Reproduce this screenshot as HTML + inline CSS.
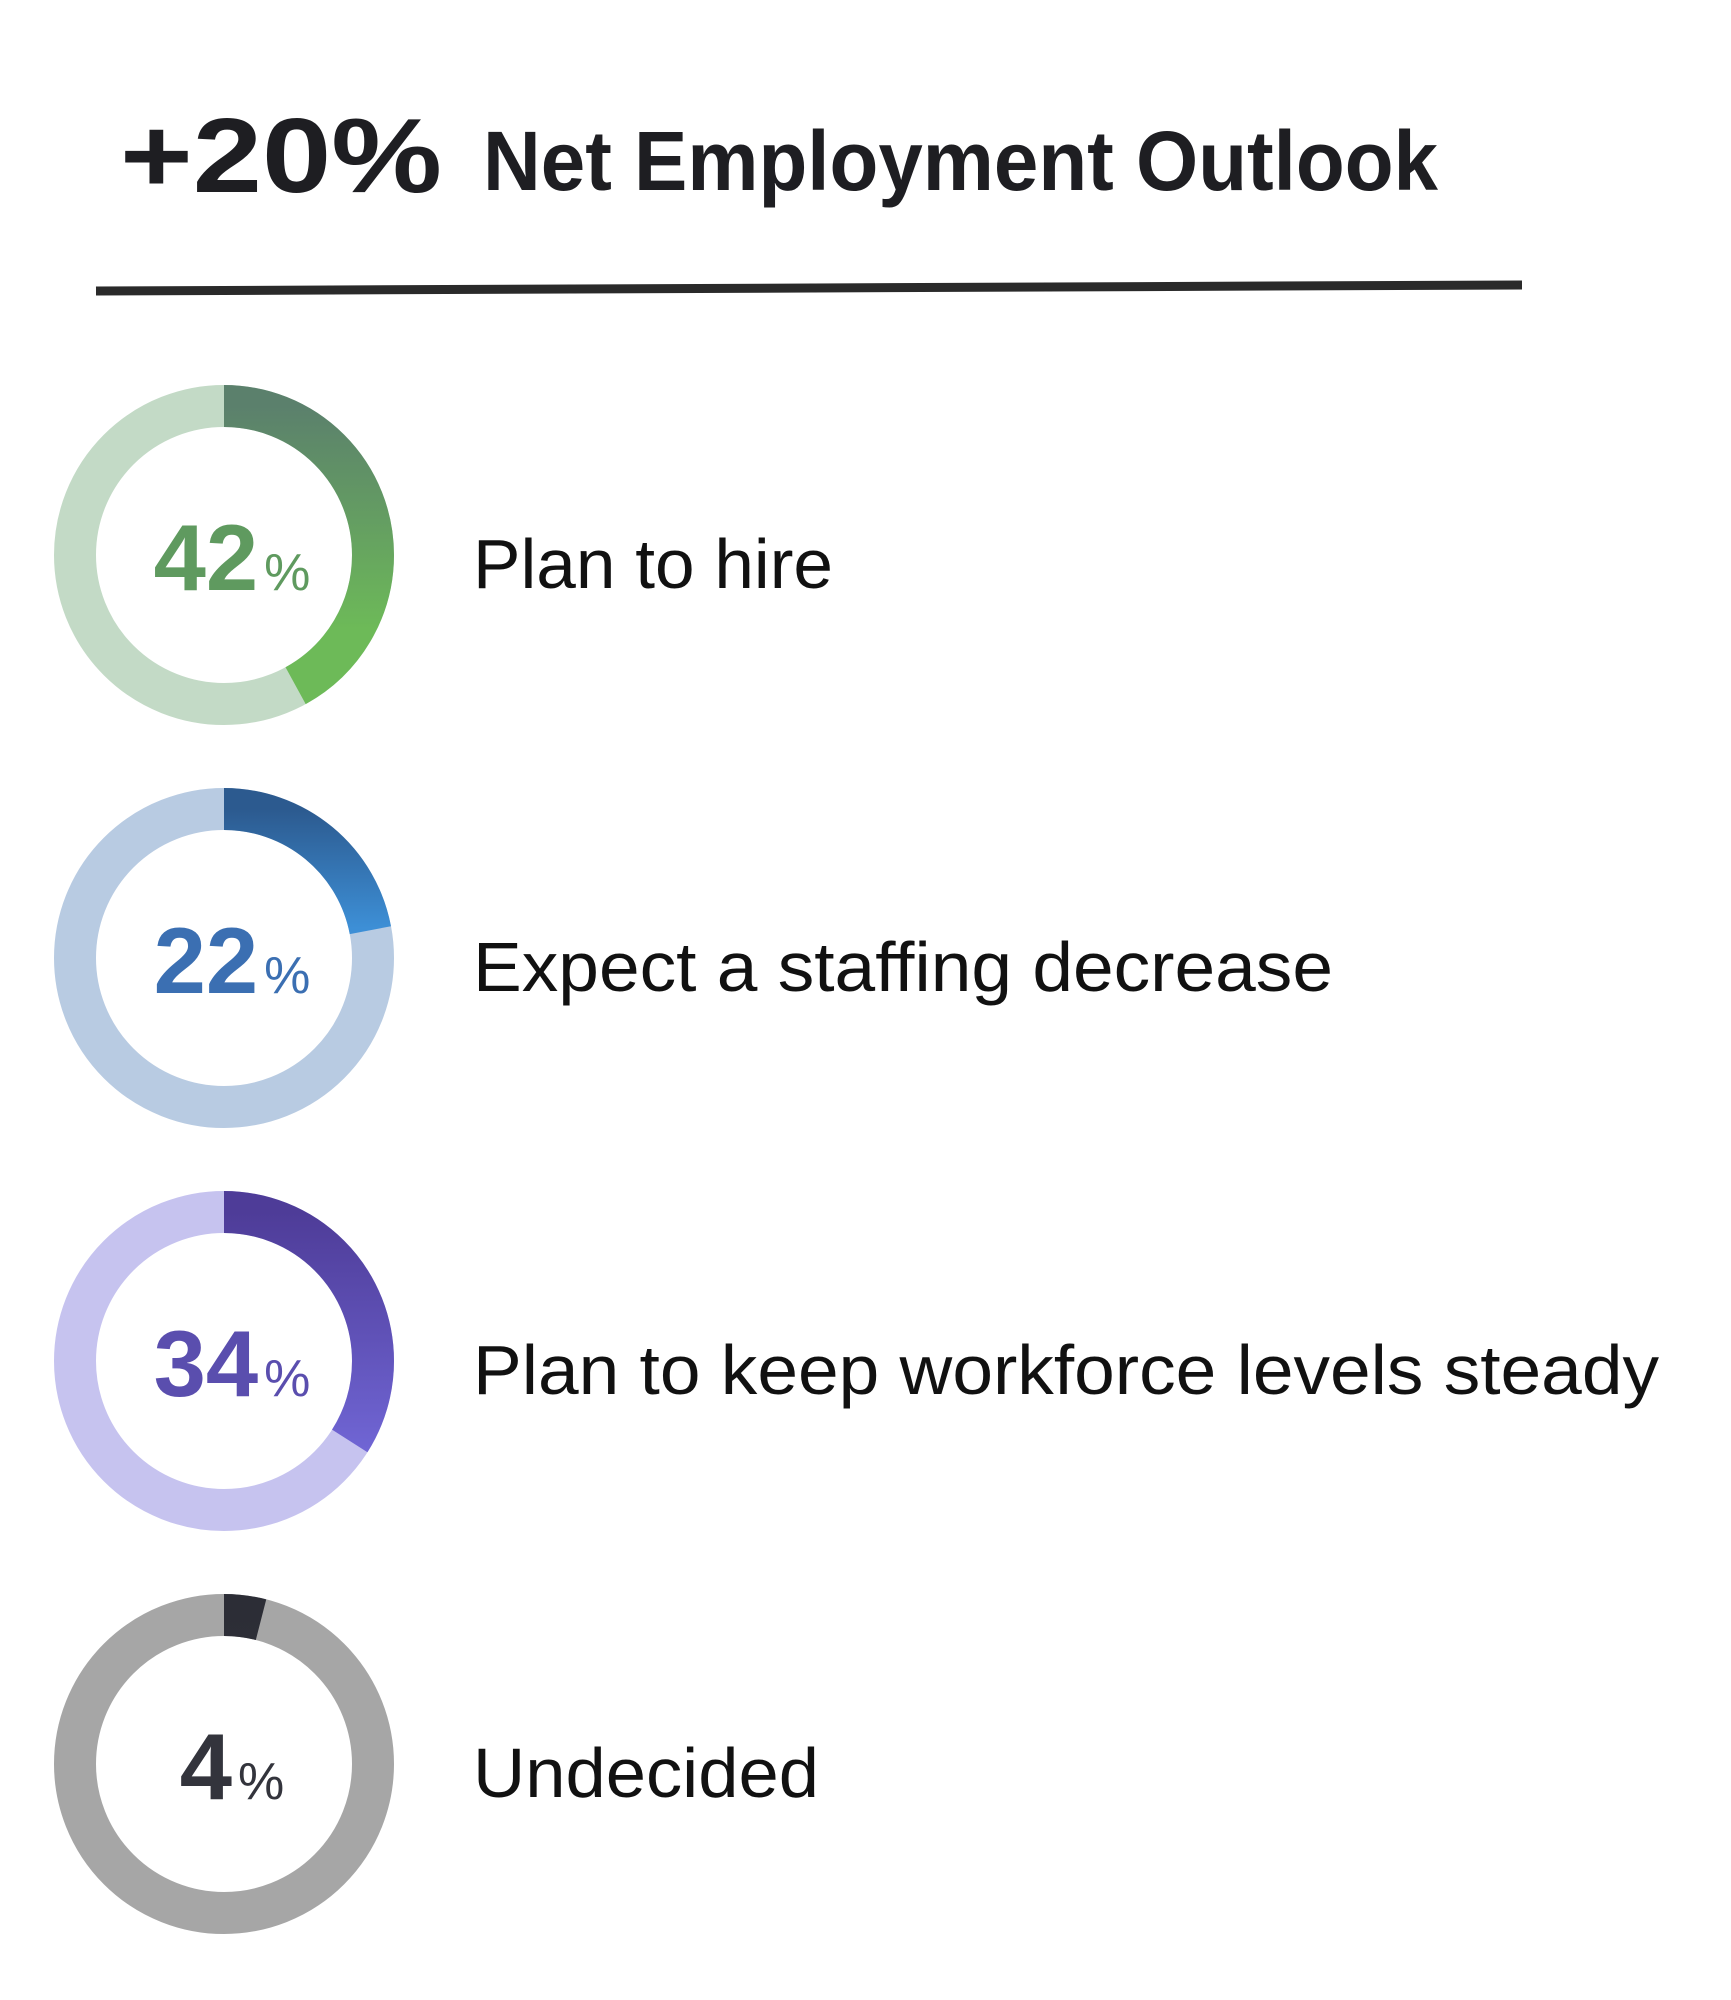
<!DOCTYPE html>
<html><head><meta charset="utf-8"><style>
html,body{margin:0;padding:0;background:#fff;}
svg{display:block;}
</style></head><body>
<svg id="chart" width="1731" height="2000" viewBox="0 0 1731 2000" xmlns="http://www.w3.org/2000/svg">
<defs>
<linearGradient id="g0" x1="1" y1="0" x2="0.25" y2="0"><stop offset="0" stop-color="#5b806c"/><stop offset="1" stop-color="#6dba58"/></linearGradient>
<linearGradient id="g1" x1="1" y1="0" x2="0.6" y2="0"><stop offset="0" stop-color="#2c5a8f"/><stop offset="1" stop-color="#3d8fd6"/></linearGradient>
<linearGradient id="g2" x1="1" y1="0" x2="0.15" y2="0"><stop offset="0" stop-color="#4e3c98"/><stop offset="1" stop-color="#7268d8"/></linearGradient>
<linearGradient id="g3" x1="1" y1="0" x2="0" y2="0"><stop offset="0" stop-color="#2c2d36"/><stop offset="1" stop-color="#3a3b44"/></linearGradient>
</defs>
<text x="120" y="192" font-family="Liberation Sans, sans-serif" font-weight="bold" font-size="106" fill="#1e1e22" textLength="322" lengthAdjust="spacingAndGlyphs">+20%</text>
<text x="483" y="190" font-family="Liberation Sans, sans-serif" font-weight="bold" font-size="84" fill="#1e1e22" textLength="955" lengthAdjust="spacingAndGlyphs">Net Employment Outlook</text>
<line x1="96" y1="291" x2="1522" y2="285" stroke="#2a2a2a" stroke-width="9"/>
<g id="rings"></g>
</svg>
<script>
const categories = ["Plan to hire","Expect a staffing decrease","Plan to keep workforce levels steady","Undecided"];
const values = [42, 22, 34, 4];
const trackColors = ["#c3dac6","#b8cbe2","#c6c3ef","#a6a6a6"];
const textColors = ["#5f9a5f","#3b6fb2","#5a4eae","#33343c"];
const labelWidths = [360, 860, 1186, 346];

const NS = "http://www.w3.org/2000/svg";
const g = document.getElementById("rings");
const cx = 224, y0 = 555, step = 403, r = 149, sw = 42;
const C = 2 * Math.PI * r;
function yPos(i){ return y0 + i * step; }

values.forEach((v, i) => {
  const cy = yPos(i);
  const grp = document.createElementNS(NS, "g");
  
  
  const track = document.createElementNS(NS, "circle");
  track.setAttribute("cx", cx); track.setAttribute("cy", cy); track.setAttribute("r", r);
  track.setAttribute("fill", "none"); track.setAttribute("stroke", trackColors[i]); track.setAttribute("stroke-width", sw);
  
  
  grp.appendChild(track);
  const arc = document.createElementNS(NS, "circle");
  arc.setAttribute("cx", cx); arc.setAttribute("cy", cy); arc.setAttribute("r", r);
  arc.setAttribute("fill", "none"); arc.setAttribute("stroke", "url(#g" + i + ")"); arc.setAttribute("stroke-width", sw);
  arc.setAttribute("stroke-dasharray", (C * v / 100) + " " + C);
  arc.setAttribute("transform", "rotate(-90 " + cx + " " + cy + ")");
  
  
  grp.appendChild(arc);
  const t = document.createElementNS(NS, "text");
  t.setAttribute("x", cx + 8); t.setAttribute("y", cy + 35);
  t.setAttribute("text-anchor", "middle");
  t.setAttribute("font-family", "Liberation Sans, sans-serif");
  t.setAttribute("fill", textColors[i]);
  
  
  const num = document.createElementNS(NS, "tspan");
  num.setAttribute("font-size", "94"); num.setAttribute("font-weight", "bold");
  num.textContent = v;
  const pct = document.createElementNS(NS, "tspan");
  pct.setAttribute("font-size", "52"); pct.setAttribute("dx", "6");
  pct.textContent = "%";
  t.appendChild(num); t.appendChild(pct);
  grp.appendChild(t);
  const lab = document.createElementNS(NS, "text");
  lab.setAttribute("x", 473); lab.setAttribute("y", cy + 33);
  lab.setAttribute("font-family", "Liberation Sans, sans-serif");
  lab.setAttribute("font-size", "70"); lab.setAttribute("fill", "#111");
  lab.setAttribute("textLength", labelWidths[i]);
  lab.setAttribute("lengthAdjust", "spacingAndGlyphs");
  
  
  lab.textContent = categories[i];
  grp.appendChild(lab);
  g.appendChild(grp);
});
</script>
</body></html>
